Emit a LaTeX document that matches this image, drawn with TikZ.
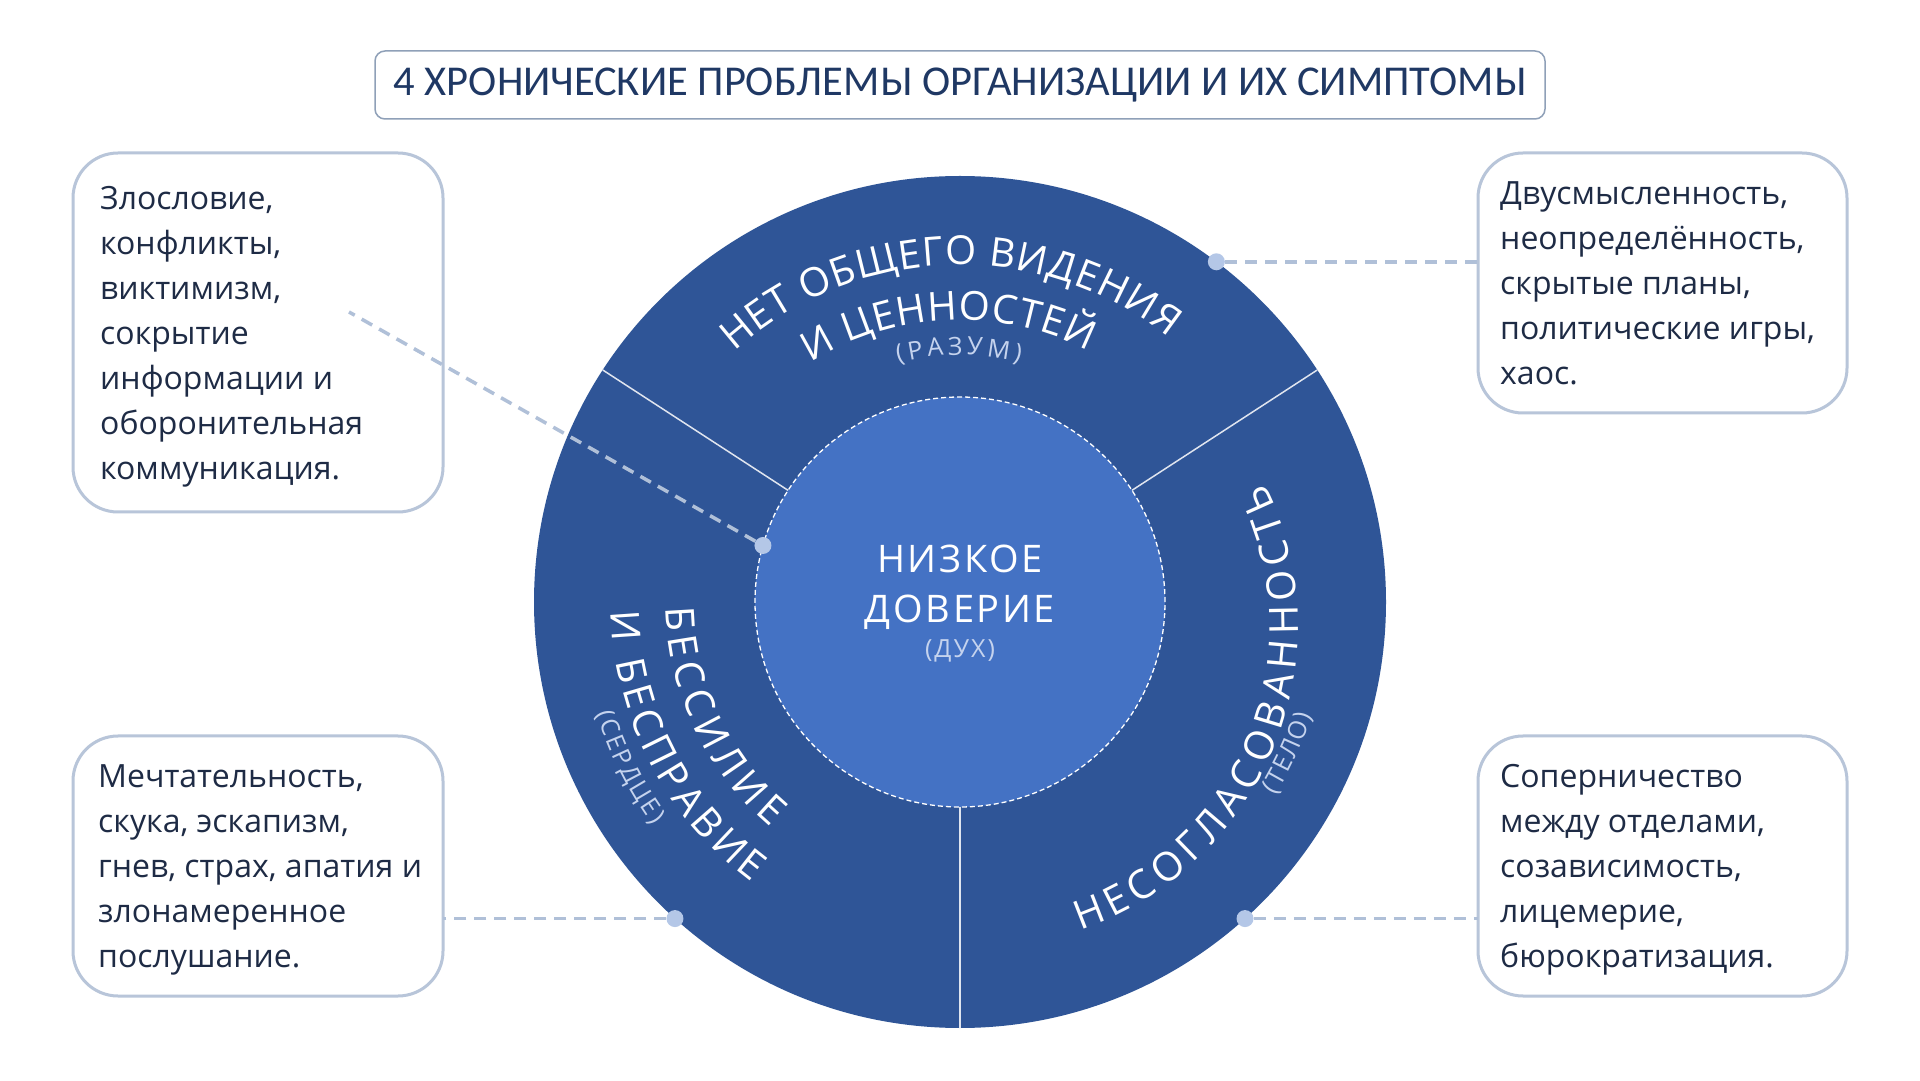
\documentclass[tikz,border=0pt]{standalone}
\usepackage{fontspec}
\setmainfont{Open Sans}
\newfontfamily\titlefont{Carlito}
\usetikzlibrary{decorations.text}
\definecolor{ringblue}{HTML}{2F5597}
\definecolor{coreblue}{HTML}{4472C4}
\definecolor{navy}{HTML}{1E2B45}
\definecolor{titlenavy}{HTML}{1F3864}
\definecolor{titleline}{HTML}{8FA0B8}
\definecolor{boxline}{HTML}{B8C5D9}
\definecolor{dotcol}{HTML}{B4C7E7}
\definecolor{dashcol}{HTML}{B0C0D8}
\definecolor{subcol}{HTML}{C5D3EE}
\newcommand\ringfnt{\fontsize{40}{44}\selectfont}
\newcommand\subfnt{\fontsize{25}{29}\selectfont}
\tikzset{
  panel/.style={draw=boxline, line width=3pt, rounded corners=45pt, fill=white, inner sep=0pt, outer sep=0pt, anchor=south west},
  bodytext/.style={anchor=north west, inner sep=0pt, align=left, text=navy, font=\fontsize{32}{45}\selectfont},
  conn/.style={draw=dashcol, line width=3.5pt, dash pattern=on 12pt off 8pt},
  dot/.style={circle, fill=dotcol, minimum size=17pt, inner sep=0pt},
  divider/.style={draw=white!85!ringblue, line width=1.5pt},
  coretext/.style={anchor=base, inner sep=0pt, text=white, font=\fontsize{38}{44}\selectfont\addfontfeatures{LetterSpace=7}},
  arctext/.style={decorate, decoration={text along path, text align={fit to path}, text color=white, text={#1}}},
  subarctext/.style={decorate, decoration={text along path, text align={fit to path}, text color=subcol, text={#1}}},
}
\begin{document}
\begin{tikzpicture}[x=1pt,y=1pt]
\useasboundingbox (0,0) rectangle (1920,1080);
\fill[white] (0,0) rectangle (1920,1080);

% title
\node[draw=titleline, line width=1.5pt, rounded corners=10pt, minimum width=1170pt, minimum height=68pt, inner sep=0pt, fill=white, text=titlenavy, font=\titlefont\fontsize{42.5}{50}\selectfont] (title) at (960,995) {4 ХРОНИЧЕСКИЕ ПРОБЛЕМЫ ОРГАНИЗАЦИИ И ИХ СИМПТОМЫ};

% boxes
\node[panel, minimum width=370pt, minimum height=359pt] (tlbox) at (73,568) {};
\node[panel, minimum width=369pt, minimum height=260pt] (trbox) at (1478,667) {};
\node[panel, minimum width=370pt, minimum height=260pt] (blbox) at (73,84) {};
\node[panel, minimum width=369pt, minimum height=260pt] (brbox) at (1478,84) {};

\node[bodytext] (tltext) at (100,894) {Злословие,\\конфликты,\\виктимизм,\\сокрытие\\информации и\\оборонительная\\коммуникация.};
\node[bodytext] (trtext) at (1500,899) {Двусмысленность,\\неопределённость,\\скрытые планы,\\политические игры,\\хаос.};
\node[bodytext] (bltext) at (98,316) {Мечтательность,\\скука, эскапизм,\\гнев, страх, апатия и\\злонамеренное\\послушание.};
\node[bodytext] (brtext) at (1500,316) {Соперничество\\между отделами,\\созависимость,\\лицемерие,\\бюрократизация.};

% ring and core
\node[circle, fill=ringblue, minimum size=852pt, inner sep=0pt, outer sep=0pt] (ring) at (960,478) {};
\node[circle, fill=coreblue, minimum size=410pt, inner sep=0pt, outer sep=0pt] (core) at (960,478) {};
\draw[divider] (core.33) -- (ring.33);
\draw[divider] (core.147) -- (ring.147);
\draw[divider] (core.270) -- (ring.270);
\draw[white, line width=1.3pt, dash pattern=on 5pt off 3pt] (core.center) circle[radius=205pt];

% centre text
\node[coretext] (c1) at (960,507) {НИЗКОЕ};
\node[coretext] (c2) at (960,457) {ДОВЕРИЕ};
\node[anchor=base, inner sep=0pt, text=subcol, font=\subfnt\addfontfeatures{LetterSpace=8}] (c3) at (960,422) {(ДУХ)};

% ring labels
\coordinate (rc) at ([shift={(17,-24)}]ring.center);
\path[arctext={|\ringfnt|НЕТ ОБЩЕГО ВИДЕНИЯ}] ([shift={(132:337pt)}]ring.center) arc[start angle=132, end angle=51.8, radius=337pt];
\path[arctext={|\ringfnt|И ЦЕННОСТЕЙ}] ([shift={(122:282pt)}]ring.center) arc[start angle=122, end angle=63, radius=282pt];
\path[subarctext={|\subfnt|(РАЗУМ)}] ([shift={(104.5:247pt)}]ring.center) arc[start angle=104.5, end angle=76, radius=247pt];

\path[arctext={|\ringfnt|БЕССИЛИЕ}] ([shift={(181:294pt)}]ring.center) arc[start angle=181, end angle=230, radius=294pt];
\path[arctext={|\ringfnt|И БЕСПРАВИЕ}] ([shift={(181.5:349pt)}]ring.center) arc[start angle=181.5, end angle=233.5, radius=349pt];
\path[subarctext={|\subfnt|(СЕРДЦЕ)}] ([shift={(197:380pt)}]ring.center) arc[start angle=197, end angle=216, radius=380pt];

\path[arctext={|\ringfnt|НЕСОГЛАСОВАННОСТЬ}] ([shift={(-71.3:321pt)}]rc) arc[start angle=-71.3, end angle=26.5, radius=321pt];
\path[subarctext={|\subfnt|(ТЕЛО)}] ([shift={(-31.5:370pt)}]ring.center) arc[start angle=-31.5, end angle=-17.8, radius=370pt];

% connectors
\node[dot] (dtr) at (ring.53) {};
\node[dot] (dbr) at (ring.-48) {};
\node[dot] (dbl) at (ring.228) {};
\node[dot] (dtl) at (core.164.3) {};
\coordinate (tlend) at (349,768);
\draw[conn] (dtr) -- (dtr -| trbox.west);
\draw[conn] (dbr) -- (dbr -| brbox.west);
\draw[conn] (dbl) -- (dbl -| blbox.east);
\draw[conn] (dtl) -- (tlend);
\end{tikzpicture}
\end{document}
